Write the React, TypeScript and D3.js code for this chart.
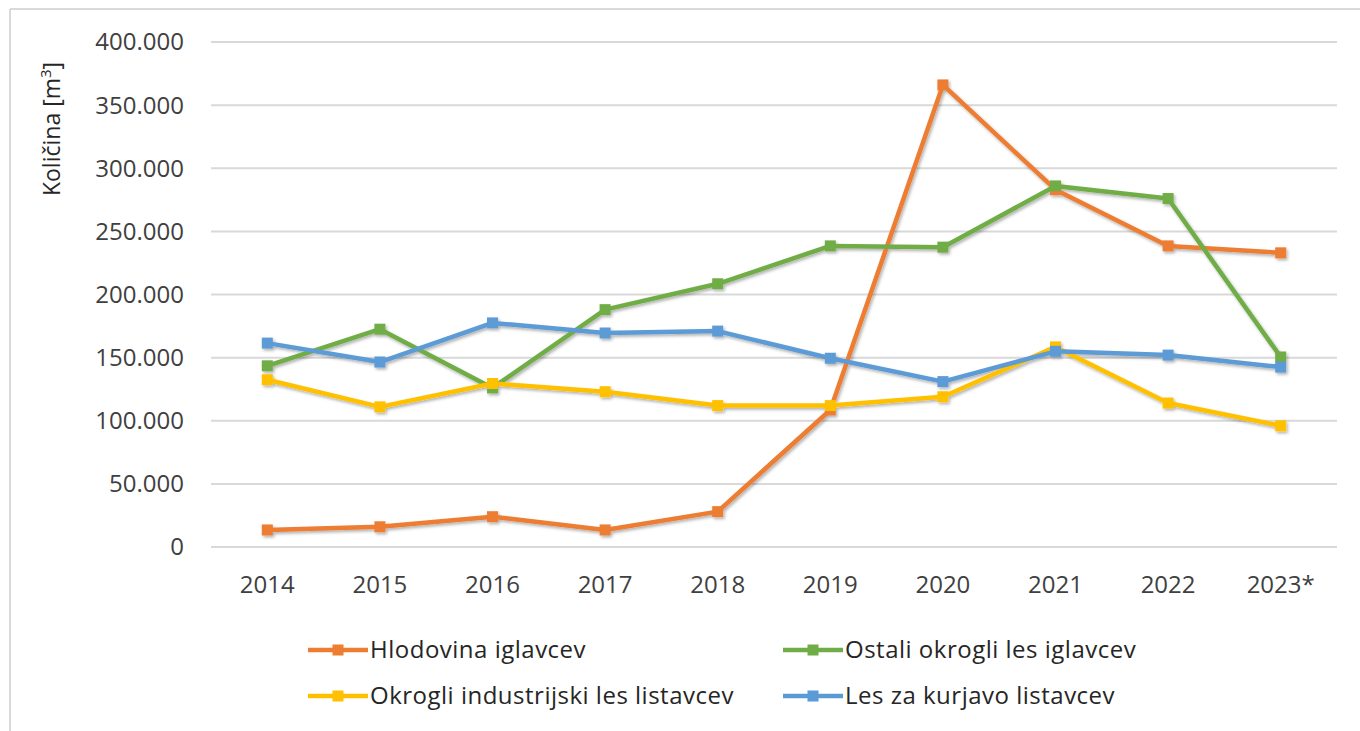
import React from "react";
import * as d3 from "d3";

const years = ["2014", "2015", "2016", "2017", "2018", "2019", "2020", "2021", "2022", "2023*"];
const hlodovina = [13500, 16000, 24000, 13500, 28000, 108500, 366000, 283000, 238500, 233000];
const ostali = [143500, 172500, 126000, 188000, 208500, 238500, 237500, 286000, 276000, 150500];
const okrogli = [132500, 111000, 129500, 123000, 112000, 112000, 119000, 158500, 114000, 96000];
const kurjava = [161500, 146500, 177500, 169500, 171000, 149500, 131000, 155000, 152000, 142500];
const yTicks = [0, 50000, 100000, 150000, 200000, 250000, 300000, 350000, 400000];

const series = [
  { name: "Hlodovina iglavcev", color: "#ED7D31", values: hlodovina },
  { name: "Ostali okrogli les iglavcev", color: "#70AD47", values: ostali },
  { name: "Okrogli industrijski les listavcev", color: "#FFC000", values: okrogli },
  { name: "Les za kurjavo listavcev", color: "#5B9BD5", values: kurjava },
];

const font = "'Open Sans', 'Noto Sans', sans-serif";

const App = () => {
  const width = 1360;
  const height = 731;
  const left = 211;
  const right = 1337;
  const top = 42;
  const bottom = 547;

  const x = d3.scaleBand().domain(years).range([left, right]);
  const y = d3.scaleLinear().domain([0, 400000]).range([bottom, top]);
  const fmt = (v: number) => (v === 0 ? "0" : d3.format(",")(v).replace(/,/g, "."));
  const cx = (i: number) => (x(years[i]) as number) + x.bandwidth() / 2;

  const line = d3
    .line<number>()
    .x((_, i) => cx(i))
    .y((d) => y(d));

  const legendItems = [
    { s: series[0], lx: 308, ly: 650 },
    { s: series[1], lx: 783, ly: 650 },
    { s: series[2], lx: 308, ly: 696 },
    { s: series[3], lx: 783, ly: 696 },
  ];

  return (
    <svg
      width={width}
      height={height}
      style={{ position: "absolute", left: 0, top: 0, background: "#fff" }}
    >
      <defs>
        <filter id="shadow" x="-10%" y="-10%" width="120%" height="120%">
          <feDropShadow dx="1.5" dy="2" stdDeviation="1.5" floodColor="#000" floodOpacity="0.3" />
        </filter>
      </defs>
      <rect x={0} y={0} width={width} height={height} fill="#fff" />
      <line x1={10} x2={width} y1={9} y2={9} stroke="#d9d9d9" strokeWidth={2} />
      <line x1={10} x2={10} y1={9} y2={height} stroke="#d9d9d9" strokeWidth={2} />

      {yTicks.map((t) => (
        <g key={t}>
          <line x1={left} x2={right} y1={y(t)} y2={y(t)} stroke="#d9d9d9" strokeWidth={2} />
          <text
            x={184}
            y={y(t)}
            dy="0.35em"
            textAnchor="end"
            fontFamily={font}
            fontSize={24}
            fill="#404040"
          >
            {fmt(t)}
          </text>
        </g>
      ))}

      {years.map((yr, i) => (
        <text
          key={yr}
          x={cx(i)}
          y={593}
          textAnchor="middle"
          fontFamily={font}
          fontSize={24}
          fill="#404040"
        >
          {yr}
        </text>
      ))}

      <text
        transform="translate(60,129) rotate(-90)"
        textAnchor="middle"
        fontFamily={font}
        fontSize={23}
        fill="#262626"
      >
        Količina [m
        <tspan fontSize={15} dy={-9}>3</tspan>
        <tspan dy={9}>]</tspan>
      </text>

      <g filter="url(#shadow)">
        {series.map((s) => (
          <g key={s.name}>
            <path d={line(s.values) || ""} fill="none" stroke={s.color} strokeWidth={4.5} strokeLinejoin="round" />
            {s.values.map((v, i) => (
              <rect key={i} x={cx(i) - 5.5} y={y(v) - 5.5} width={11} height={11} fill={s.color} />
            ))}
          </g>
        ))}
      </g>

      {legendItems.map(({ s, lx, ly }) => (
        <g key={s.name}>
          <line x1={lx} x2={lx + 60} y1={ly} y2={ly} stroke={s.color} strokeWidth={4.5} />
          <rect x={lx + 24.5} y={ly - 5.5} width={11} height={11} fill={s.color} />
          <text
            x={lx + 62}
            y={ly}
            dy="0.35em"
            fontFamily={font}
            fontSize={24}
            letterSpacing={0.5}
            fill="#262626"
          >
            {s.name}
          </text>
        </g>
      ))}
    </svg>
  );
};

export default App;
